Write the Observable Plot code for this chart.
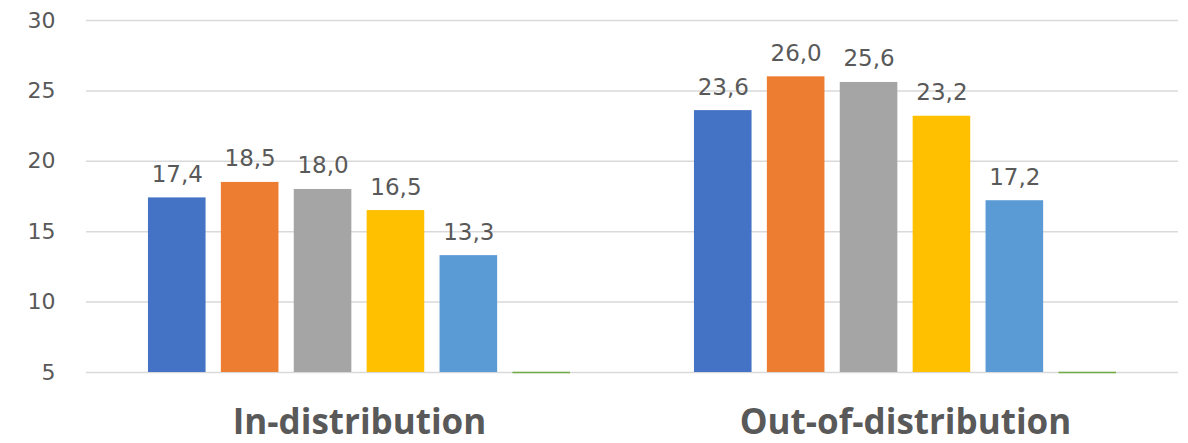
<!DOCTYPE html>
<html><head><meta charset="utf-8">
<script src="https://cdn.jsdelivr.net/npm/d3@7"></script>
<script src="https://cdn.jsdelivr.net/npm/@observablehq/plot@0.6"></script>
<style>
html,body{margin:0;padding:0;background:#fff;overflow:hidden;}
#chart svg{display:block;}
#chart g[aria-label="fx-axis tick label"] text{font-family:"Open Sans",sans-serif;font-weight:700;}
</style></head><body><div id="chart"></div>
<script>
// Categories and series
const groups = ["In-distribution", "Out-of-distribution"];
const series = ["Series 1", "Series 2", "Series 3", "Series 4", "Series 5", "Series 6"];
const colors = ["#4472C4", "#ED7D31", "#A5A5A5", "#FFC000", "#5B9BD5", "#70AD47"];
// Values per group (6th series sits at/below the axis minimum, no label shown)
const inDist = [17.4, 18.5, 18.0, 16.5, 13.3, 0];
const outDist = [23.6, 26.0, 25.6, 23.2, 17.2, 0];
// Axis
const yTicks = [5, 10, 15, 20, 25, 30];
const axisMin = 5;
const axisMax = 30;

const data = [];
groups.forEach((g, gi) => series.forEach((s, si) =>
  data.push({group: g, series: s, value: (gi ? outDist : inDist)[si]})));
const fmt = v => v.toFixed(1).replace(".", ",");
const visible = data.filter(d => d.value > axisMin);
const clipped = data.filter(d => d.value <= axisMin);

const chart = Plot.plot({
  width: 1188, height: 443,
  marginTop: 20, marginBottom: 71, marginLeft: 86, marginRight: 10,
  style: {fontFamily: "DejaVu Sans", background: "#fff", color: "#595959"},
  fx: {domain: groups, padding: 0, label: null, round: false},
  x: {domain: series, paddingInner: 0.21, paddingOuter: 0.85, axis: null, round: false},
  y: {domain: [axisMin, axisMax], clamp: true, label: null},
  color: {domain: series, range: colors},
  marks: [
    Plot.gridY(yTicks, {stroke: "#d9d9d9", strokeOpacity: 1, strokeWidth: 1.5}),
    Plot.axisY(yTicks, {tickSize: 0, tickPadding: 31, fontSize: 22, color: "#595959", label: null}),
    Plot.axisFx({anchor: "bottom", tickSize: 0, tickPadding: 37, fontSize: 35, fontWeight: 700, color: "#595959", label: null}),
    Plot.barY(visible, {fx: "group", x: "series", y1: axisMin, y2: "value", fill: "series"}),
    Plot.tickY(clipped, {fx: "group", x: "series", y: "value", stroke: "series", strokeWidth: 1.5}),
    Plot.text(visible, {fx: "group", x: "series", y: "value", text: d => fmt(d.value),
      dy: -16, lineAnchor: "bottom", fontSize: 23, fill: "#595959"})
  ]
});
document.getElementById("chart").appendChild(chart);
</script></body></html>
